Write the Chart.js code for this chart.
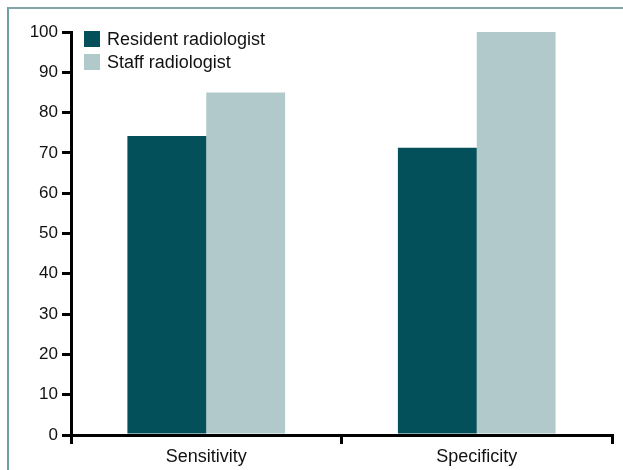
<!DOCTYPE html>
<html>
<head>
<meta charset="utf-8">
<script src="https://cdn.jsdelivr.net/npm/chart.js@4/dist/chart.umd.min.js"></script>
<style>
  body { margin: 0; background: #fff; overflow: hidden; }
  #frame { position: absolute; left: 7px; top: 7px; width: 640px; height: 500px; border-left: 2px solid #6f9fa3; border-top: 2px solid #7fa5a8; }
  #wrap { position: absolute; left: 0; top: 0; width: 623px; height: 470px; }
</style>
</head>
<body>
<div id="frame"></div>
<div id="wrap"><canvas id="myChart" width="623" height="470"></canvas></div>
<script>
var categories = ['Sensitivity', 'Specificity']
var residentValues = [74.2, 71.3]
var staffValues = [85, 100]
var seriesNames = ['Resident radiologist', 'Staff radiologist']
var seriesColors = ['#034f5a', '#b2c9cb']

var FONT = '"Liberation Sans", Arial, sans-serif'

// legend drawn inside the plot, top left
var innerLegend = {
    id: 'innerLegend',
    afterDraw: function (chart) {
        var ctx = chart.ctx
        ctx.save()
        ctx.font = '18px ' + FONT
        ctx.textBaseline = 'middle'
        chart.data.datasets.forEach(function (ds, i) {
            var y = 31 + i * 23
            ctx.fillStyle = ds.backgroundColor
            ctx.fillRect(84, y, 16, 16)
            ctx.fillStyle = '#111'
            ctx.fillText(ds.label, 107, y + 9)
        })
        ctx.restore()
    }
}

var myChart = document.getElementById('myChart').getContext('2d')

var chart = new Chart(myChart, {
    type: 'bar',
    data: {
        labels: categories,
        datasets: [
            { label: seriesNames[0], data: residentValues, backgroundColor: seriesColors[0] },
            { label: seriesNames[1], data: staffValues, backgroundColor: seriesColors[1] }
        ]
    },
    options: {
        responsive: false,
        animation: false,
        layout: { padding: { left: 0, top: 32, right: 11, bottom: 0 } },
        datasets: { bar: { barPercentage: 1, categoryPercentage: 0.583 } },
        plugins: { legend: { display: false }, tooltip: { enabled: false } },
        scales: {
            x: {
                offset: true,
                afterFit: function (scale) { scale.height = 35 },
                grid: { offset: true, drawOnChartArea: false, tickLength: 9, color: '#000', lineWidth: 3 },
                border: { color: '#000', width: 3 },
                ticks: { color: '#111', padding: 2, font: { family: FONT, size: 18 } }
            },
            y: {
                min: 0,
                max: 100,
                afterFit: function (scale) { scale.width = 71 },
                grid: { drawOnChartArea: false, tickLength: 9, color: '#000', lineWidth: 3 },
                border: { color: '#000', width: 3 },
                ticks: { stepSize: 10, color: '#111', padding: 4, font: { family: FONT, size: 17 } }
            }
        }
    },
    plugins: [innerLegend]
})
</script>
</body>
</html>
